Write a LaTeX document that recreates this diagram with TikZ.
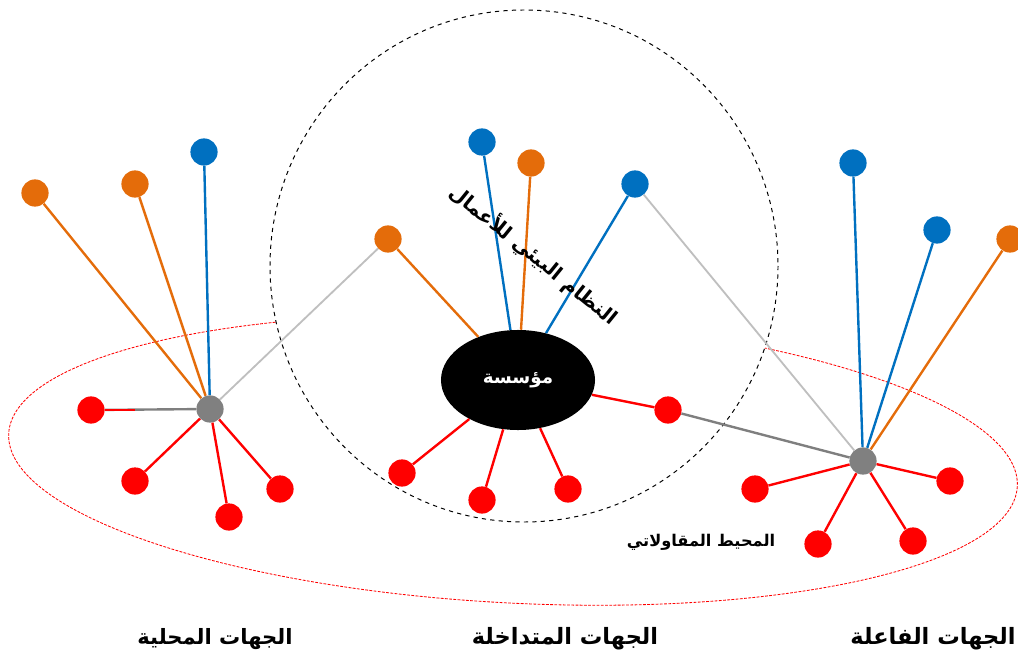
\documentclass[tikz,border=0pt]{standalone}
\usepackage{fontspec}
\usepackage{tikz}
\usepackage{xcolor}
\usetikzlibrary{shapes.geometric}
\newfontfamily\arabicfont[Script=Arabic]{DejaVu Sans}
\TeXXeTstate=1
\definecolor{orng}{HTML}{E46C0A}
\definecolor{blu}{HTML}{0070C0}
\definecolor{rd}{HTML}{FF0000}
\definecolor{hubgray}{HTML}{808080}
\definecolor{linkgray}{HTML}{BFBFBF}
\definecolor{darklink}{HTML}{7F7F7F}

\begin{document}
\begin{tikzpicture}[x=0.025cm, y=-0.025cm,
    actor/.style={circle, minimum size=0.68cm, inner sep=0pt},
    ornode/.style={actor, fill=orng},
    blnode/.style={actor, fill=blu},
    rdnode/.style={actor, fill=rd},
    hub/.style={actor, fill=hubgray},
    firm/.style={ellipse, fill=black, minimum width=3.85cm, minimum height=2.5cm, text=white, font=\arabicfont\bfseries\fontsize{13}{15}\selectfont},
    orline/.style={draw=orng, line width=1.7pt},
    blline/.style={draw=blu, line width=1.7pt},
    rdline/.style={draw=rd, line width=1.7pt},
    grayline/.style={draw=linkgray, line width=1.3pt},
    darkline/.style={draw=darklink, line width=1.7pt},
    lbl/.style={font=\arabicfont\bfseries\fontsize{16}{18}\selectfont}
]
\useasboundingbox (0,0) rectangle (1018,662);

% Ellipses
\draw[rd, line width=0.6pt, dash pattern=on 2pt off 1pt, rotate around={-3:(513,460)}] (513,460) ellipse [x radius=505, y radius=143];
\draw[black, line width=0.7pt, dashed, fill=white] (524,266) ellipse [x radius=254, y radius=256];

% Left actors
\node[hub] (hubL) at (210,409) {};
\node[ornode] (orL1) at (35,193) {};
\node[ornode] (orL2) at (135,184) {};
\node[blnode] (blL1) at (204,152) {};
\node[rdnode] (rdL1) at (91,410) {};
\node[rdnode] (rdL2) at (135,481) {};
\node[rdnode] (rdL3) at (229,517) {};
\node[rdnode] (rdL4) at (280,489) {};
\coordinate (rdL1end) at (135,410);

% Center firm
\node[firm] (firm) at (518,380) {\beginR مؤسسة\endR};
\node[blnode] (blC1) at (482,142) {};
\node[ornode] (orC1) at (531,163) {};
\node[blnode] (blC2) at (635,184) {};
\node[ornode] (orC2) at (388,239) {};
\node[rdnode] (rdC1) at (668,410) {};
\node[rdnode] (rdC2) at (402,473) {};
\node[rdnode] (rdC3) at (482,500) {};
\node[rdnode] (rdC4) at (568,489) {};

% Right actors
\node[hub] (hubR) at (863,461) {};
\node[blnode] (blR1) at (853,163) {};
\node[blnode] (blR2) at (937,230) {};
\node[ornode] (orR1) at (1010,239) {};
\node[rdnode] (rdR1) at (755,489) {};
\node[rdnode] (rdR2) at (818,544) {};
\node[rdnode] (rdR3) at (913,541) {};
\node[rdnode] (rdR4) at (950,481) {};

% Links left
\draw[orline] (orL1) -- (hubL);
\draw[orline] (orL2) -- (hubL);
\draw[blline] (blL1) -- (hubL);
\draw[darkline] (rdL1) -- (hubL);
\draw[rdline] (rdL1) -- (rdL1end);
\draw[rdline] (rdL2) -- (hubL);
\draw[rdline] (rdL3) -- (hubL);
\draw[rdline] (rdL4) -- (hubL);
\draw[grayline] (hubL) -- (orC2);

% Links center
\draw[blline] (blC1) -- (firm);
\draw[orline] (orC1) -- (firm);
\draw[blline] (blC2) -- (firm);
\draw[orline] (orC2) -- (firm);
\draw[rdline] (firm) -- (rdC1);
\draw[rdline] (firm) -- (rdC2);
\draw[rdline] (firm) -- (rdC3);
\draw[rdline] (firm) -- (rdC4);

% Links right
\draw[grayline] (blC2) -- (hubR);
\draw[darkline] (rdC1) -- (hubR);
\draw[blline] (blR1) -- (hubR);
\draw[blline] (blR2) -- (hubR);
\draw[orline] (orR1) -- (hubR);
\draw[rdline] (rdR1) -- (hubR);
\draw[rdline] (rdR2) -- (hubR);
\draw[rdline] (rdR3) -- (hubR);
\draw[rdline] (rdR4) -- (hubR);

% Labels
\node[lbl, font=\arabicfont\bfseries\fontsize{14}{16}\selectfont, rotate=-39] (ecosys) at (534,255) {\beginR النظام البيئي للأعمال\endR};
\node[lbl, font=\arabicfont\bfseries\fontsize{11.5}{14}\selectfont] (milieu) at (701,542) {\beginR المحيط المقاولاتي\endR};
\node[lbl, font=\arabicfont\bfseries\fontsize{15}{17}\selectfont] (local) at (215,639) {\beginR الجهات المحلية\endR};
\node[lbl] (inter) at (565,639) {\beginR الجهات المتداخلة\endR};
\node[lbl] (active) at (933,639) {\beginR الجهات الفاعلة\endR};

\end{tikzpicture}
\end{document}
